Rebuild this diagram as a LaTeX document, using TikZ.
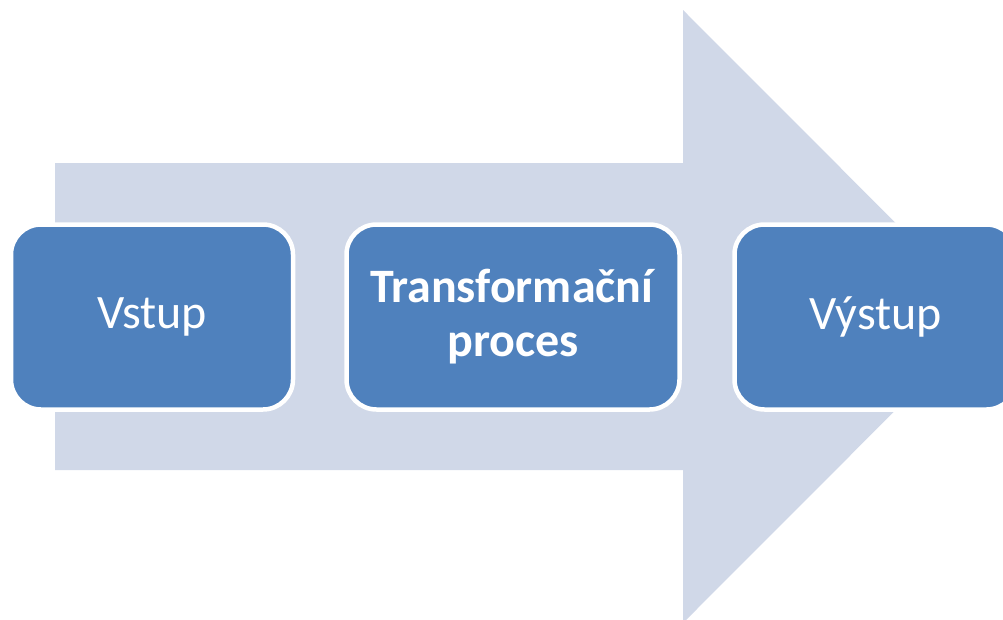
\documentclass[tikz,border=0pt]{standalone}
\usepackage{fontspec}
\setmainfont{Carlito}
\definecolor{arrowfill}{HTML}{D0D8E8}
\definecolor{boxfill}{HTML}{4F81BD}
\tikzset{
	stage/.style={draw=white, line width=4.5pt, fill=boxfill, rounded corners=30pt,
		text=white, align=center, inner sep=0pt, minimum height=185pt,
		font=\fontsize{48}{54}\selectfont}
}
\begin{document}
\begin{tikzpicture}[x=1pt,y=-1pt]
			\useasboundingbox (0,0) rectangle (1003,619);
			\fill [arrowfill] (55,163) -- (683,163) -- (683,10) -- (989,316.5)
				-- (683,623) -- (683,470) -- (55,470) -- cycle;
			\node [stage, minimum width=282pt] (input) at (152,317) {\raisebox{-2pt}{Vstup}};
			\node [stage, minimum width=333pt] (process) at (513,317) {\textbf{Transformační}\\\textbf{proces}};
			\node [stage, minimum width=282pt] (output) at (875.5,317) {\raisebox{-2pt}{Výstup}};
		\end{tikzpicture}
\end{document}
